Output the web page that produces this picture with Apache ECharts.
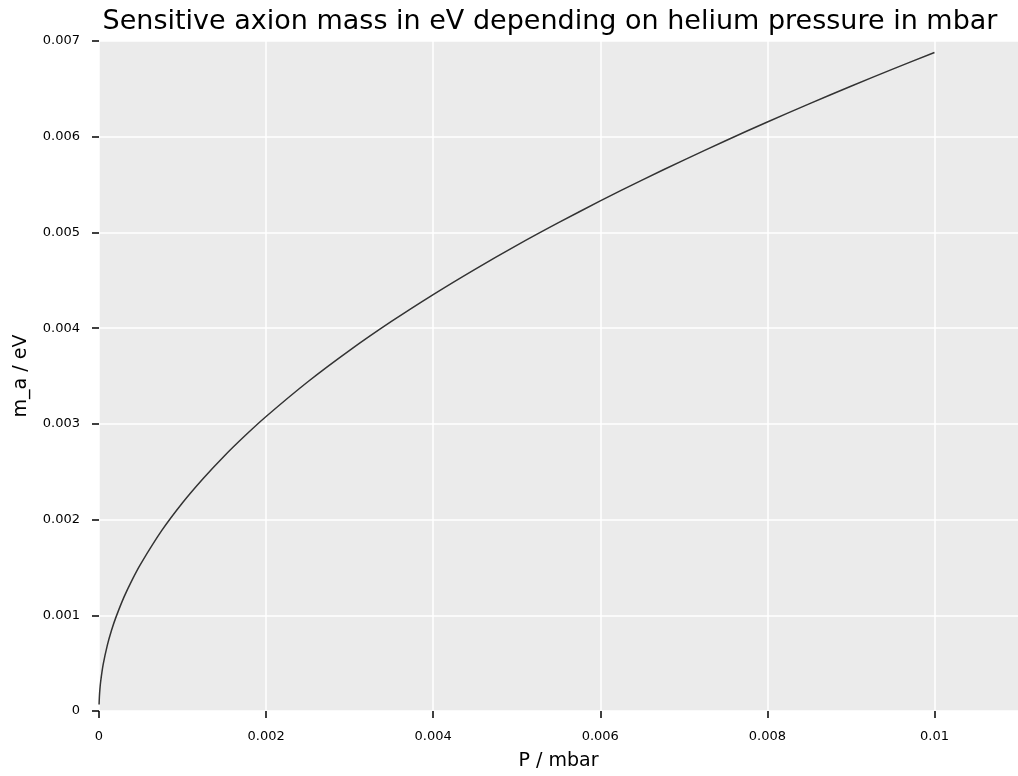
<!DOCTYPE html>
<html><head><meta charset="utf-8">
<script src="https://cdn.jsdelivr.net/npm/echarts@6/dist/echarts.min.js"></script>
<style>html,body{margin:0;padding:0;background:#fff}#c{width:1018px;height:776px}</style>
</head><body><div id="c"></div>
<script>
const pressure = [0.000001,0.000005,0.00001,0.00002,0.00005,0.0001,0.00015,0.0002,0.0003,0.0004,0.0005,0.00075,0.001,0.00125,0.0015,0.00175,0.002,0.0025,0.003,0.0035,0.004,0.0045,0.005,0.0055,0.006,0.0065,0.007,0.0075,0.008,0.0085,0.009,0.0095,0.01];
const mass = [0.0000688,0.000154,0.000218,0.000308,0.000486,0.000688,0.000843,0.000973,0.001192,0.001376,0.001538,0.001884,0.002176,0.002432,0.002665,0.002878,0.003077,0.003440,0.003768,0.004070,0.004351,0.004615,0.004865,0.005102,0.005329,0.005547,0.005756,0.005958,0.006154,0.006343,0.006527,0.006706,0.006880];
const xTicks = [0,0.002,0.004,0.006,0.008,0.01];
const xTickLabels = ['0','0.002','0.004','0.006','0.008','0.01'];
const yTickLabels = ['0','0.001','0.002','0.003','0.004','0.005','0.006','0.007'];

const chart = echarts.init(document.getElementById('c'), null, {renderer:'canvas'});
const font = 'DejaVu Sans';
chart.setOption({
  animation:false,
  title:{text:'Sensitive axion mass in eV depending on helium pressure in mbar', left:545, textAlign:'center', top:3,
    textStyle:{fontFamily:font, fontSize:27, fontWeight:'normal', color:'#000'}},
  grid:{left:99, right:0, top:41, bottom:65, show:true, backgroundColor:'#ebebeb', borderWidth:0},
  xAxis:{type:'value', min:0, max:0.011, interval:0.002,
    name:'P / mbar', nameLocation:'middle', nameGap:41,
    nameTextStyle:{fontFamily:font, fontSize:19, color:'#000'},
    axisLine:{show:false},
    axisTick:{show:true, length:7, lineStyle:{color:'#000', width:1.5}, customValues:xTicks},
    axisLabel:{fontFamily:font, fontSize:13, color:'#000', margin:19, customValues:xTicks,
      formatter:v=>{const i=xTicks.findIndex(t=>Math.abs(t-v)<1e-9);return i>=0?xTickLabels[i]:'';}},
    splitLine:{show:true, lineStyle:{color:'#fff', width:1.5}}},
  yAxis:{type:'value', min:0, max:0.007, interval:0.001,
    name:'m_a / eV', nameLocation:'middle', nameGap:68, nameRotate:90,
    nameTextStyle:{fontFamily:font, fontSize:19, color:'#000'},
    axisLine:{show:false},
    axisTick:{show:true, length:7, lineStyle:{color:'#000', width:1.5}},
    axisLabel:{fontFamily:font, fontSize:13, color:'#000', margin:19,
      formatter:v=>yTickLabels[Math.round(v*1000)]||''},
    splitLine:{show:true, lineStyle:{color:'#fff', width:1.5}}},
  series:[{type:'line', data:pressure.map((p,i)=>[p,mass[i]]), showSymbol:false, smooth:0.3,
    lineStyle:{color:'#333', width:1.5}}]
});
</script></body></html>
